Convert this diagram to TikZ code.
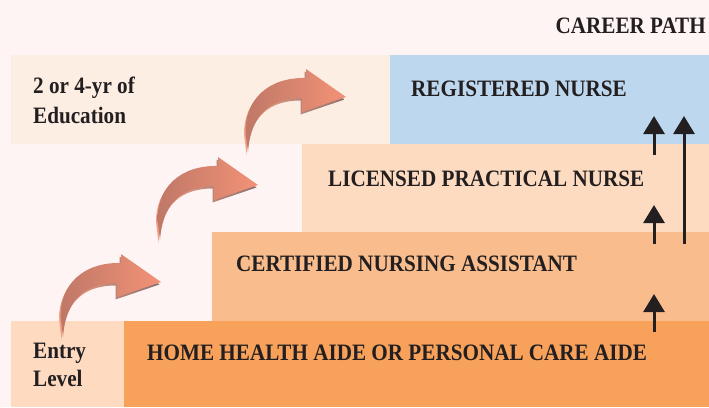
\documentclass[tikz,border=0pt]{standalone}
\usepackage{fontspec}
\setmainfont{Liberation Serif}[FakeStretch=0.9]
\usepackage{xcolor}
\usetikzlibrary{arrows.meta, positioning}
\tikzset{>=latex}

\definecolor{bgpink}{HTML}{FEF4F4}
\definecolor{edubox}{HTML}{FDEEE3}
\definecolor{rnblue}{HTML}{BDD7EE}
\definecolor{lpnpeach}{HTML}{FDDBC1}
\definecolor{cnaorange}{HTML}{F9BD8D}
\definecolor{hhaorange}{HTML}{F7A15A}
\definecolor{entrybox}{HTML}{FDDAC0}
\definecolor{ink}{HTML}{231F20}
\definecolor{arrowdark}{HTML}{BF7867}
\definecolor{arrowlight}{HTML}{F39277}
\definecolor{sidelight}{HTML}{F6A287}
\definecolor{sidegray}{HTML}{8C7270}

\begin{document}
\begin{tikzpicture}[x=1pt, y=-1pt]
    % Define node styles
    \tikzstyle{band} = [rectangle, inner sep=0pt, outer sep=0pt, anchor=north west]
    \tikzstyle{steptext} = [inner sep=0pt, text=ink, font=\fontsize{23.5}{27}\selectfont\bfseries]
    \tikzstyle{uparrow} = [-{Triangle[width=21pt, length=18pt]}, line width=3pt, draw=ink]
    \tikzset{curvedarrow/.pic={
        \shade[left color=sidelight, right color=sidegray, shift={(-1.5,2.5)}]
            (0,0) -- (-2.5,-20) .. controls (-3,-52) and (20,-75) .. (58,-74)
            -- (58,-83) -- (98,-55) -- (54,-40) -- (54,-54)
            .. controls (25,-54) and (3,-40) .. (0,0) -- cycle;
        \shade[left color=arrowdark, right color=arrowlight]
            (0,0) -- (-2.5,-20) .. controls (-3,-52) and (20,-75) .. (58,-74)
            -- (58,-83) -- (98,-55) -- (54,-40) -- (54,-54)
            .. controls (25,-54) and (3,-40) .. (0,0) -- cycle;
    }}

    % Background
    \fill[bgpink] (0,0) rectangle (709,407);
    \useasboundingbox (0,0) rectangle (709,407);

    % Steps of the ladder
    \node[band, fill=edubox, minimum width=379pt, minimum height=89pt] (edu) at (11,55) {};
    \node[band, fill=rnblue, minimum width=319pt, minimum height=89pt] (rn) at (390,55) {};
    \node[band, fill=lpnpeach, minimum width=407pt, minimum height=88pt] (lpn) at (302,144) {};
    \node[band, fill=cnaorange, minimum width=497pt, minimum height=89pt] (cna) at (212,232) {};
    \node[band, fill=entrybox, minimum width=113pt, minimum height=86pt] (entry) at (11,321) {};
    \node[band, fill=hhaorange, minimum width=585pt, minimum height=86pt] (hha) at (124,321) {};

    % Texts
    \node[steptext, anchor=base east] (title) at (706,33) {CAREER PATH};
    \node[steptext, anchor=base west] (rntext) at (411,96) {REGISTERED NURSE};
    \node[steptext, anchor=base west] (lpntext) at (328,186) {LICENSED PRACTICAL NURSE};
    \node[steptext, anchor=base west] (cnatext) at (236,271) {CERTIFIED NURSING ASSISTANT};
    \node[steptext, anchor=base west] (hhatext) at (147,360) {HOME HEALTH AIDE OR PERSONAL CARE AIDE};
    \node[steptext, anchor=base west] (edutext1) at (33,93) {2 or 4-yr of};
    \node[steptext, anchor=base west] (edutext2) at (33,123) {Education};
    \node[steptext, anchor=base west] (entrytext1) at (33,358) {Entry};
    \node[steptext, anchor=base west] (entrytext2) at (33,386) {Level};

    % Curved arrows between the levels
    \pic (bend1) at (63,337) {curvedarrow};
    \pic (bend2) at (160,240) {curvedarrow};
    \pic (bend3) at (248,152) {curvedarrow};

    % Upward arrows on the right
    \coordinate (hhaup) at (654,332);
    \coordinate (cnatop) at (654,294);
    \coordinate (cnaup) at (654,244);
    \coordinate (lpntop) at (654,205);
    \coordinate (lpnup) at (654,155);
    \coordinate (rntop) at (654,116);
    \coordinate (longup) at (684,244);
    \coordinate (longtop) at (684,116);
    \draw[uparrow] (hhaup) -- (cnatop);
    \draw[uparrow] (cnaup) -- (lpntop);
    \draw[uparrow] (lpnup) -- (rntop);
    \draw[uparrow] (longup) -- (longtop);

\end{tikzpicture}
\end{document}
